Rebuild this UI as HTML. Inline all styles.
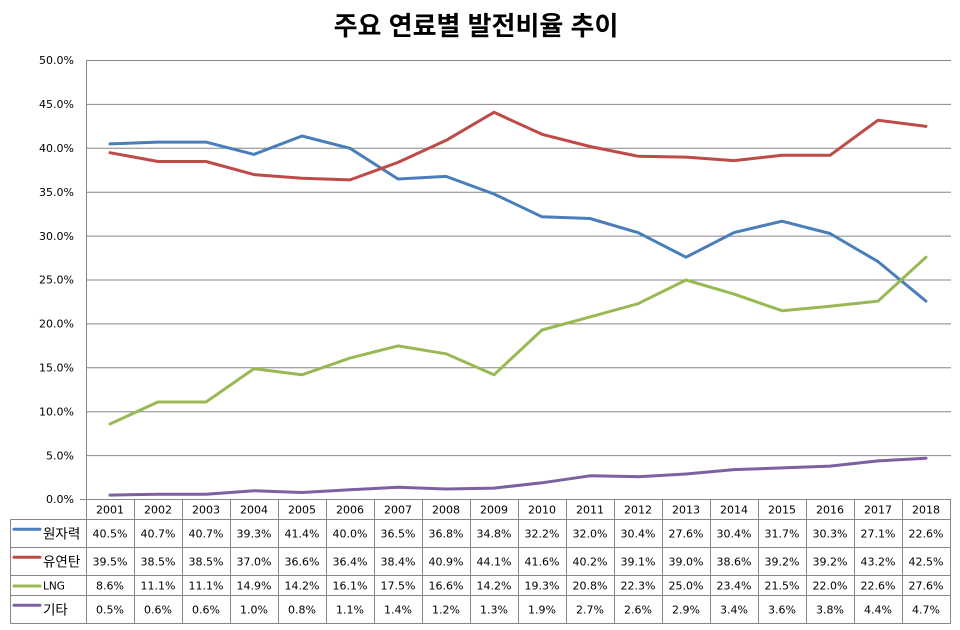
<!DOCTYPE html>
<html><head><meta charset="utf-8"><style>
html,body{margin:0;padding:0;background:#fff;}
svg{display:block;}
.n{font-family:"DejaVu Sans","Liberation Sans",sans-serif;font-size:11px;fill:#000;}
.k{font-family:"Liberation Sans","Noto Sans CJK KR","NanumGothic",sans-serif;font-size:13.5px;fill:#000;}
</style></head><body>
<svg width="960" height="630" viewBox="0 0 960 630" xmlns="http://www.w3.org/2000/svg">
<rect width="960" height="630" fill="#fff"/>
<text x="476" y="35" text-anchor="middle" style="font-family:'Liberation Sans','Noto Sans CJK KR','NanumGothic',sans-serif;font-size:26px;font-weight:bold;fill:#000">주요 연료별 발전비율 추이</text>
<g stroke="#868686" stroke-width="1" fill="none">
<line x1="86" y1="60.5" x2="951" y2="60.5"/>
<line x1="86" y1="104.4" x2="951" y2="104.4"/>
<line x1="86" y1="148.3" x2="951" y2="148.3"/>
<line x1="86" y1="192.2" x2="951" y2="192.2"/>
<line x1="86" y1="236.1" x2="951" y2="236.1"/>
<line x1="86" y1="280" x2="951" y2="280"/>
<line x1="86" y1="323.9" x2="951" y2="323.9"/>
<line x1="86" y1="367.8" x2="951" y2="367.8"/>
<line x1="86" y1="411.7" x2="951" y2="411.7"/>
<line x1="86" y1="455.6" x2="951" y2="455.6"/>
<line x1="80" y1="499.5" x2="951" y2="499.5"/>
<line x1="86.5" y1="60" x2="86.5" y2="624"/>
<line x1="10.5" y1="519.5" x2="950.5" y2="519.5"/>
<line x1="10.5" y1="547.5" x2="950.5" y2="547.5"/>
<line x1="10.5" y1="575.5" x2="950.5" y2="575.5"/>
<line x1="10.5" y1="595.5" x2="950.5" y2="595.5"/>
<line x1="10.5" y1="623.5" x2="950.5" y2="623.5"/>
<line x1="10.5" y1="519.5" x2="10.5" y2="623.5"/>
<line x1="134.5" y1="499.5" x2="134.5" y2="623.5"/>
<line x1="182.5" y1="499.5" x2="182.5" y2="623.5"/>
<line x1="230.5" y1="499.5" x2="230.5" y2="623.5"/>
<line x1="278.5" y1="499.5" x2="278.5" y2="623.5"/>
<line x1="326.5" y1="499.5" x2="326.5" y2="623.5"/>
<line x1="374.5" y1="499.5" x2="374.5" y2="623.5"/>
<line x1="422.5" y1="499.5" x2="422.5" y2="623.5"/>
<line x1="470.5" y1="499.5" x2="470.5" y2="623.5"/>
<line x1="518.5" y1="499.5" x2="518.5" y2="623.5"/>
<line x1="566.5" y1="499.5" x2="566.5" y2="623.5"/>
<line x1="614.5" y1="499.5" x2="614.5" y2="623.5"/>
<line x1="662.5" y1="499.5" x2="662.5" y2="623.5"/>
<line x1="710.5" y1="499.5" x2="710.5" y2="623.5"/>
<line x1="758.5" y1="499.5" x2="758.5" y2="623.5"/>
<line x1="806.5" y1="499.5" x2="806.5" y2="623.5"/>
<line x1="854.5" y1="499.5" x2="854.5" y2="623.5"/>
<line x1="902.5" y1="499.5" x2="902.5" y2="623.5"/>
<line x1="950.5" y1="499.5" x2="950.5" y2="623.5"/>
</g>
<g class="n" text-anchor="end">
<text x="74" y="64.2">50.0%</text>
<text x="74" y="108.1">45.0%</text>
<text x="74" y="152">40.0%</text>
<text x="74" y="195.9">35.0%</text>
<text x="74" y="239.8">30.0%</text>
<text x="74" y="283.7">25.0%</text>
<text x="74" y="327.6">20.0%</text>
<text x="74" y="371.5">15.0%</text>
<text x="74" y="415.4">10.0%</text>
<text x="74" y="459.3">5.0%</text>
<text x="74" y="503.2">0.0%</text>
</g>
<g fill="none" stroke-width="3" stroke-linejoin="round" stroke-linecap="round">
<polyline stroke="#4a7ebb" points="110,143.9 158,142.1 206,142.1 254,154.4 302,136.0 350,148.3 398,179.0 446,176.4 494,194.0 542,216.8 590,218.5 638,232.6 686,257.2 734,232.6 782,221.2 830,233.5 878,261.6 926,301.1"/>
<polyline stroke="#be4b48" points="110,152.7 158,161.5 206,161.5 254,174.6 302,178.2 350,179.9 398,162.4 446,140.4 494,112.3 542,134.3 590,146.5 638,156.2 686,157.1 734,160.6 782,155.3 830,155.3 878,120.2 926,126.4"/>
<polyline stroke="#98b954" points="110,424.0 158,402.0 206,402.0 254,368.7 302,374.8 350,358.1 398,345.9 446,353.8 494,374.8 542,330.0 590,316.9 638,303.7 686,280.0 734,294.1 782,310.7 830,306.3 878,301.1 926,257.2"/>
<polyline stroke="#7d60a0" points="110,495.1 158,494.2 206,494.2 254,490.7 302,492.5 350,489.8 398,487.2 446,489.0 494,488.1 542,482.8 590,475.8 638,476.7 686,474.0 734,469.6 782,467.9 830,466.1 878,460.9 926,458.2"/>
<line stroke="#4a7ebb" x1="14" y1="529.3" x2="40" y2="529.3"/>
<line stroke="#be4b48" x1="14" y1="557.3" x2="40" y2="557.3"/>
<line stroke="#98b954" x1="14" y1="586" x2="40" y2="586"/>
<line stroke="#7d60a0" x1="14" y1="605.3" x2="40" y2="605.3"/>
</g>
<text class="k" x="43" y="538.5">원자력</text>
<text class="k" x="43" y="566.5">유연탄</text>
<text class="n" x="43" y="589.5" style="font-size:10.5px">LNG</text>
<text class="k" x="43" y="614.5">기타</text>
<g class="n" text-anchor="middle">
<text x="110" y="513.5">2001</text><text x="158" y="513.5">2002</text><text x="206" y="513.5">2003</text><text x="254" y="513.5">2004</text><text x="302" y="513.5">2005</text><text x="350" y="513.5">2006</text><text x="398" y="513.5">2007</text><text x="446" y="513.5">2008</text><text x="494" y="513.5">2009</text><text x="542" y="513.5">2010</text><text x="590" y="513.5">2011</text><text x="638" y="513.5">2012</text><text x="686" y="513.5">2013</text><text x="734" y="513.5">2014</text><text x="782" y="513.5">2015</text><text x="830" y="513.5">2016</text><text x="878" y="513.5">2017</text><text x="926" y="513.5">2018</text>
<text x="110" y="537.5">40.5%</text><text x="158" y="537.5">40.7%</text><text x="206" y="537.5">40.7%</text><text x="254" y="537.5">39.3%</text><text x="302" y="537.5">41.4%</text><text x="350" y="537.5">40.0%</text><text x="398" y="537.5">36.5%</text><text x="446" y="537.5">36.8%</text><text x="494" y="537.5">34.8%</text><text x="542" y="537.5">32.2%</text><text x="590" y="537.5">32.0%</text><text x="638" y="537.5">30.4%</text><text x="686" y="537.5">27.6%</text><text x="734" y="537.5">30.4%</text><text x="782" y="537.5">31.7%</text><text x="830" y="537.5">30.3%</text><text x="878" y="537.5">27.1%</text><text x="926" y="537.5">22.6%</text>
<text x="110" y="565.5">39.5%</text><text x="158" y="565.5">38.5%</text><text x="206" y="565.5">38.5%</text><text x="254" y="565.5">37.0%</text><text x="302" y="565.5">36.6%</text><text x="350" y="565.5">36.4%</text><text x="398" y="565.5">38.4%</text><text x="446" y="565.5">40.9%</text><text x="494" y="565.5">44.1%</text><text x="542" y="565.5">41.6%</text><text x="590" y="565.5">40.2%</text><text x="638" y="565.5">39.1%</text><text x="686" y="565.5">39.0%</text><text x="734" y="565.5">38.6%</text><text x="782" y="565.5">39.2%</text><text x="830" y="565.5">39.2%</text><text x="878" y="565.5">43.2%</text><text x="926" y="565.5">42.5%</text>
<text x="110" y="589.5">8.6%</text><text x="158" y="589.5">11.1%</text><text x="206" y="589.5">11.1%</text><text x="254" y="589.5">14.9%</text><text x="302" y="589.5">14.2%</text><text x="350" y="589.5">16.1%</text><text x="398" y="589.5">17.5%</text><text x="446" y="589.5">16.6%</text><text x="494" y="589.5">14.2%</text><text x="542" y="589.5">19.3%</text><text x="590" y="589.5">20.8%</text><text x="638" y="589.5">22.3%</text><text x="686" y="589.5">25.0%</text><text x="734" y="589.5">23.4%</text><text x="782" y="589.5">21.5%</text><text x="830" y="589.5">22.0%</text><text x="878" y="589.5">22.6%</text><text x="926" y="589.5">27.6%</text>
<text x="110" y="613.5">0.5%</text><text x="158" y="613.5">0.6%</text><text x="206" y="613.5">0.6%</text><text x="254" y="613.5">1.0%</text><text x="302" y="613.5">0.8%</text><text x="350" y="613.5">1.1%</text><text x="398" y="613.5">1.4%</text><text x="446" y="613.5">1.2%</text><text x="494" y="613.5">1.3%</text><text x="542" y="613.5">1.9%</text><text x="590" y="613.5">2.7%</text><text x="638" y="613.5">2.6%</text><text x="686" y="613.5">2.9%</text><text x="734" y="613.5">3.4%</text><text x="782" y="613.5">3.6%</text><text x="830" y="613.5">3.8%</text><text x="878" y="613.5">4.4%</text><text x="926" y="613.5">4.7%</text>
</g>
</svg>
</body></html>
